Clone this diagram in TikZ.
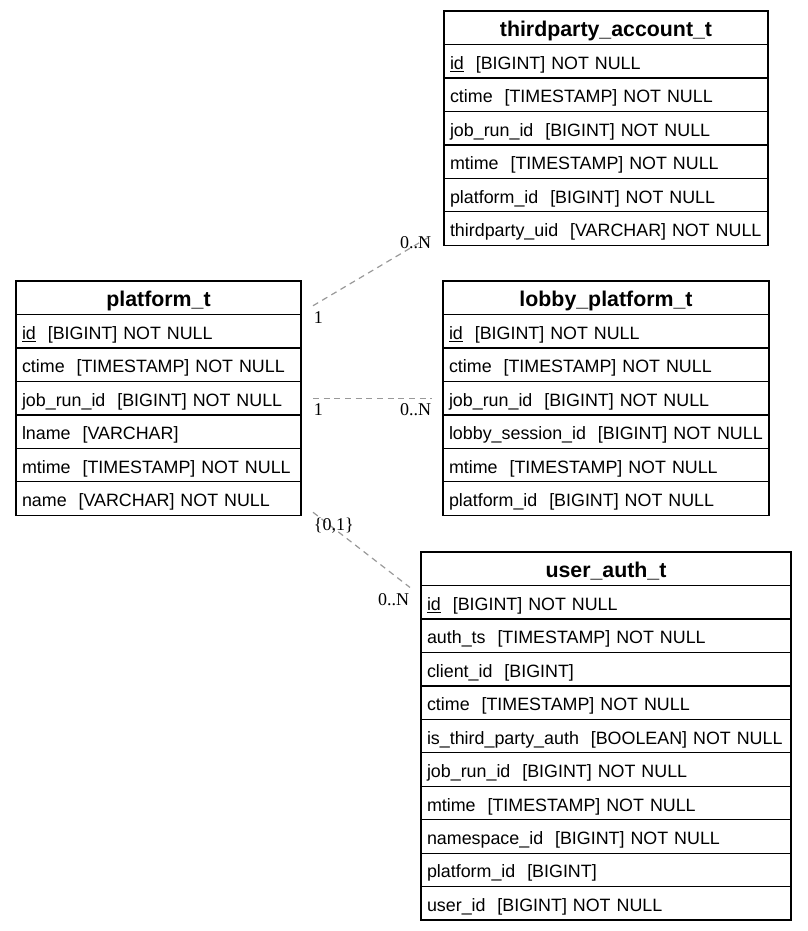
\documentclass[tikz,border=0pt]{standalone}
\usepackage{fontspec}
\setmainfont{Liberation Sans}
\newfontfamily\cardfont{Liberation Serif}
\usetikzlibrary{positioning}

\tikzset{
  tabletitle/.style={draw, line width=1pt, outer sep=0pt, minimum width=#1,
    minimum height=25.1pt, inner sep=0pt, text height=13.5pt, text depth=0.5pt,
    font=\fontsize{16}{18}\selectfont\bfseries},
  field/.style={draw, line width=1pt, outer sep=0pt, text width=#1-9pt,
    minimum height=25.1pt, inner xsep=4.5pt, inner ysep=0pt, align=left,
    text height=12.5pt, text depth=0.5pt, font=\fontsize{13.4}{16}\selectfont},
  rel/.style={draw=gray!80, line width=0.9pt, dash pattern=on 4.5pt off 3.5pt},
  card/.style={inner sep=0.5pt, yshift=-3.5pt, font=\cardfont\fontsize{13.5}{15}\selectfont}
}

\begin{document}
\begin{tikzpicture}[x=0.75pt, y=-0.75pt]
  \useasboundingbox (0,0) rectangle (807,931);

  % platform_t
  \node (pt) [tabletitle=213.75pt, anchor=north west] at (16,281) {platform\_t};
  \node (p1) [field=213.75pt, below=0pt of pt] {\underline{id}\ \ [BIGINT] NOT NULL};
  \node (p2) [field=213.75pt, below=0pt of p1] {ctime\ \ [TIMESTAMP] NOT NULL};
  \node (p3) [field=213.75pt, below=0pt of p2] {job\_run\_id\ \ [BIGINT] NOT NULL};
  \node (p4) [field=213.75pt, below=0pt of p3] {lname\ \ [VARCHAR]};
  \node (p5) [field=213.75pt, below=0pt of p4] {mtime\ \ [TIMESTAMP] NOT NULL};
  \node (p6) [field=213.75pt, below=0pt of p5] {name\ \ [VARCHAR] NOT NULL};

  % thirdparty_account_t
  \node (tt) [tabletitle=243pt, anchor=north west] at (444,11) {thirdparty\_account\_t};
  \node (t1) [field=243pt, below=0pt of tt] {\underline{id}\ \ [BIGINT] NOT NULL};
  \node (t2) [field=243pt, below=0pt of t1] {ctime\ \ [TIMESTAMP] NOT NULL};
  \node (t3) [field=243pt, below=0pt of t2] {job\_run\_id\ \ [BIGINT] NOT NULL};
  \node (t4) [field=243pt, below=0pt of t3] {mtime\ \ [TIMESTAMP] NOT NULL};
  \node (t5) [field=243pt, below=0pt of t4] {platform\_id\ \ [BIGINT] NOT NULL};
  \node (t6) [field=243pt, below=0pt of t5] {thirdparty\_uid\ \ [VARCHAR] NOT NULL};

  % lobby_platform_t
  \node (lt) [tabletitle=244.5pt, anchor=north west] at (443,281) {lobby\_platform\_t};
  \node (l1) [field=244.5pt, below=0pt of lt] {\underline{id}\ \ [BIGINT] NOT NULL};
  \node (l2) [field=244.5pt, below=0pt of l1] {ctime\ \ [TIMESTAMP] NOT NULL};
  \node (l3) [field=244.5pt, below=0pt of l2] {job\_run\_id\ \ [BIGINT] NOT NULL};
  \node (l4) [field=244.5pt, below=0pt of l3] {lobby\_session\_id\ \ [BIGINT] NOT NULL};
  \node (l5) [field=244.5pt, below=0pt of l4] {mtime\ \ [TIMESTAMP] NOT NULL};
  \node (l6) [field=244.5pt, below=0pt of l5] {platform\_id\ \ [BIGINT] NOT NULL};

  % user_auth_t
  \node (ut) [tabletitle=277.5pt, anchor=north west] at (421,552) {user\_auth\_t};
  \node (u1) [field=277.5pt, below=0pt of ut] {\underline{id}\ \ [BIGINT] NOT NULL};
  \node (u2) [field=277.5pt, below=0pt of u1] {auth\_ts\ \ [TIMESTAMP] NOT NULL};
  \node (u3) [field=277.5pt, below=0pt of u2] {client\_id\ \ [BIGINT]};
  \node (u4) [field=277.5pt, below=0pt of u3] {ctime\ \ [TIMESTAMP] NOT NULL};
  \node (u5) [field=277.5pt, below=0pt of u4] {is\_third\_party\_auth\ \ [BOOLEAN] NOT NULL};
  \node (u6) [field=277.5pt, below=0pt of u5] {job\_run\_id\ \ [BIGINT] NOT NULL};
  \node (u7) [field=277.5pt, below=0pt of u6] {mtime\ \ [TIMESTAMP] NOT NULL};
  \node (u8) [field=277.5pt, below=0pt of u7] {namespace\_id\ \ [BIGINT] NOT NULL};
  \node (u9) [field=277.5pt, below=0pt of u8] {platform\_id\ \ [BIGINT]};
  \node (u10) [field=277.5pt, below=0pt of u9] {user\_id\ \ [BIGINT] NOT NULL};

  % relation ends
  \coordinate (r1a) at ([shift={(12,8)}]pt.east);
  \coordinate (r1b) at ([shift={(-12,-10)}]t6.south west);
  \coordinate (r2a) at ([xshift=9pt]p3.east);
  \coordinate (r2b) at ([xshift=-8.25pt]l3.west);
  \coordinate (r3a) at ([shift={(12,-3)}]p6.south east);
  \coordinate (r3b) at ([shift={(-11,2)}]ut.south west);

  \draw[rel] (r1a) -- (r1b);
  \node [card, anchor=north west] at (r1a) {1};
  \node [card, anchor=north east, yshift=3pt] at (r1b) {0..N};

  \draw[rel] (r2a) -- (r2b);
  \node [card, anchor=north west] at (r2a) {1};
  \node [card, anchor=north east] at (r2b) {0..N};

  \draw[rel] (r3a) -- (r3b);
  \node [card, anchor=north west] at (r3a) {\{0,1\}};
  \node [card, anchor=north east] at (r3b) {0..N};
\end{tikzpicture}
\end{document}
